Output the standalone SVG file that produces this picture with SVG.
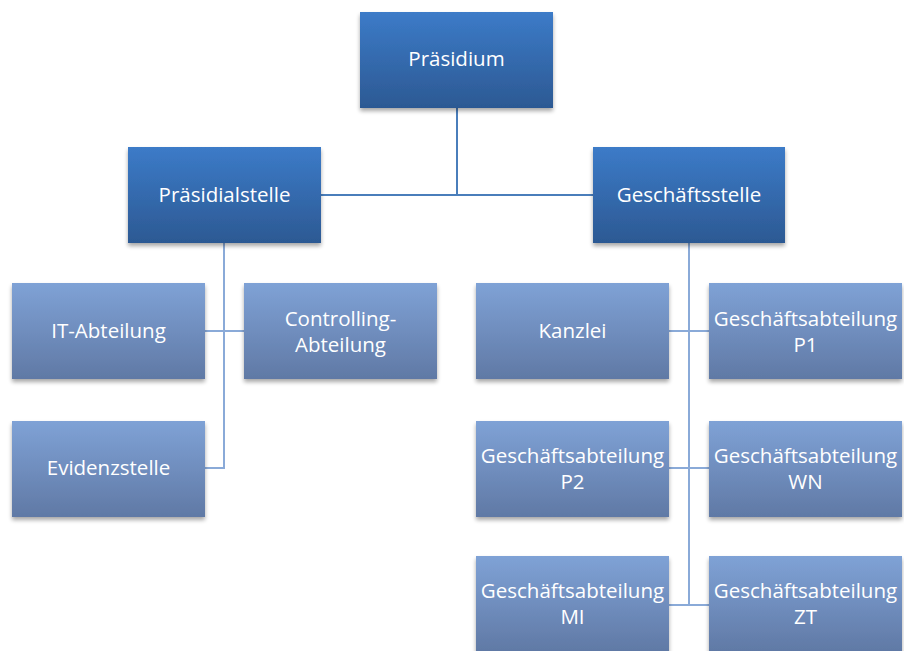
<svg xmlns="http://www.w3.org/2000/svg" width="904" height="651" viewBox="0 0 904 651">
<defs>
<linearGradient id="gDark" x1="0" y1="0" x2="0" y2="1">
<stop offset="0" stop-color="#3c7bc8"/>
<stop offset="1" stop-color="#2c5993"/>
</linearGradient>
<linearGradient id="gLight" x1="0" y1="0" x2="0" y2="1">
<stop offset="0" stop-color="#7fa2d6"/>
<stop offset="1" stop-color="#6079a5"/>
</linearGradient>
<filter id="sh" x="-10%" y="-10%" width="120%" height="130%">
<feGaussianBlur in="SourceAlpha" stdDeviation="2"/>
<feOffset dx="0" dy="3"/>
<feComponentTransfer><feFuncA type="linear" slope="0.35"/></feComponentTransfer>
<feMerge><feMergeNode/><feMergeNode in="SourceGraphic"/></feMerge>
</filter>
</defs>
<style>
.dark{fill:url(#gDark);filter:url(#sh);}
.light{fill:url(#gLight);filter:url(#sh);}
text{font-family:"Open Sans","Liberation Sans",sans-serif;font-size:20.5px;fill:#ffffff;text-anchor:middle;}
.c1{stroke:#4a7ebb;stroke-width:2;fill:none;}
.c2{stroke:#8aaad8;stroke-width:2;fill:none;}
</style>
<rect width="904" height="651" fill="#ffffff"/>
<g id="connectors">
<path class="c1" d="M457 108 V195 M321 195 H593"/>
<path class="c2" d="M224 243 V468 H205 M205 331 H244"/>
<path class="c2" d="M689 243 V605 M669 331 H709 M669 468 H709 M669 605 H709"/>
</g>
<g id="praesidium"><rect class="dark" x="360" y="12" width="193" height="96"/><text x="456.5" y="66">Präsidium</text></g>
<g id="praesidialstelle"><rect class="dark" x="128" y="147" width="193" height="96"/><text x="224.5" y="202">Präsidialstelle</text></g>
<g id="geschaeftsstelle"><rect class="dark" x="593" y="147" width="192" height="96"/><text x="689" y="202">Geschäftsstelle</text></g>
<g id="it"><rect class="light" x="12" y="283" width="193" height="96"/><text x="108.5" y="338">IT-Abteilung</text></g>
<g id="controlling"><rect class="light" x="244" y="283" width="193" height="96"/><text x="340.5" y="326">Controlling-</text><text x="340.5" y="352">Abteilung</text></g>
<g id="evidenz"><rect class="light" x="12" y="421" width="193" height="96"/><text x="108.5" y="475">Evidenzstelle</text></g>
<g id="kanzlei"><rect class="light" x="476" y="283" width="193" height="96"/><text x="572.5" y="338">Kanzlei</text></g>
<g id="p1"><rect class="light" x="709" y="283" width="193" height="96"/><text x="805.5" y="326">Geschäftsabteilung</text><text x="805.5" y="352">P1</text></g>
<g id="p2"><rect class="light" x="476" y="421" width="193" height="96"/><text x="572.5" y="463">Geschäftsabteilung</text><text x="572.5" y="489">P2</text></g>
<g id="wn"><rect class="light" x="709" y="421" width="193" height="96"/><text x="805.5" y="463">Geschäftsabteilung</text><text x="805.5" y="489">WN</text></g>
<g id="mi"><rect class="light" x="476" y="556" width="193" height="96"/><text x="572.5" y="598">Geschäftsabteilung</text><text x="572.5" y="624">MI</text></g>
<g id="zt"><rect class="light" x="709" y="556" width="193" height="96"/><text x="805.5" y="598">Geschäftsabteilung</text><text x="805.5" y="624">ZT</text></g>
</svg>
